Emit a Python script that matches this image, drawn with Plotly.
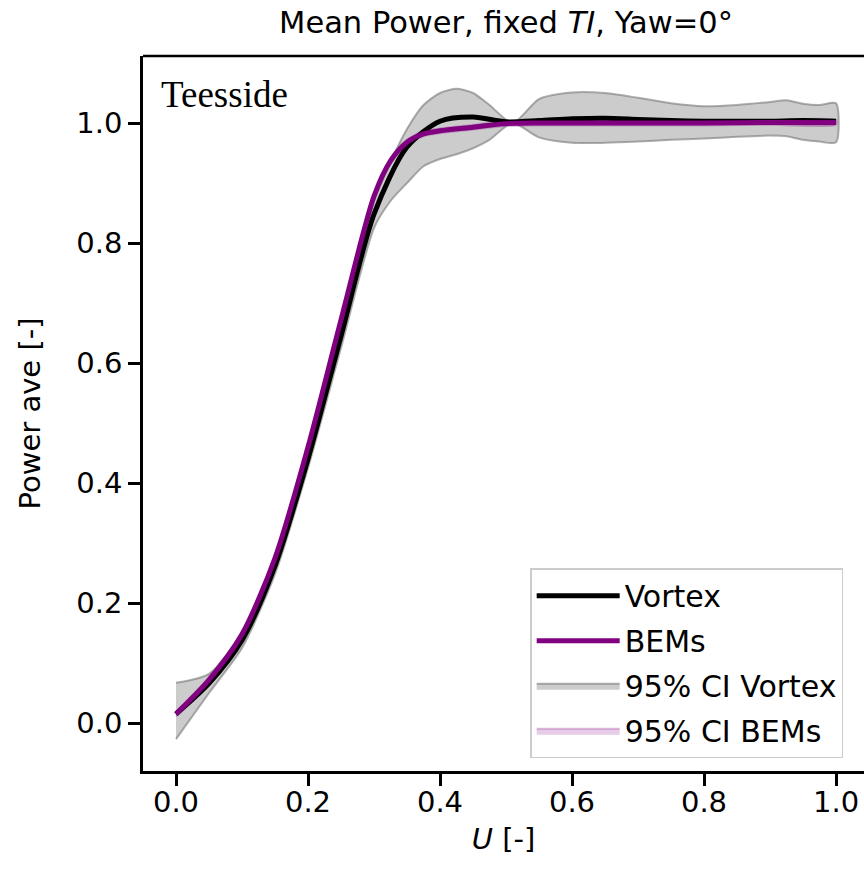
import plotly.graph_objects as go

# ---- data ----
u_vortex = [0.00, 0.05, 0.10, 0.15, 0.20, 0.25, 0.30, 0.35, 0.40, 0.45, 0.50,
            0.55, 0.60, 0.65, 0.70, 0.75, 0.80, 0.85, 0.90, 0.95, 1.00]
p_vortex = [0.015, 0.066, 0.138, 0.262, 0.440, 0.645, 0.848, 0.960, 1.003, 1.010, 1.002,
            1.004, 1.007, 1.008, 1.006, 1.004, 1.003, 1.003, 1.003, 1.004, 1.003]

u_bems = [0.00, 0.05, 0.10, 0.15, 0.20, 0.25, 0.30, 0.325, 0.35, 0.375, 0.40, 0.45,
          0.50, 0.55, 0.60, 0.70, 0.80, 0.90, 1.00]
p_bems = [0.015, 0.072, 0.148, 0.275, 0.460, 0.672, 0.878, 0.937, 0.968, 0.982, 0.987, 0.993,
          0.999, 1.000, 1.000, 1.000, 1.000, 1.001, 1.001]

u_ci_v = [0.00, 0.05, 0.10, 0.15, 0.20, 0.25, 0.30, 0.325, 0.35, 0.375, 0.40, 0.425,
          0.45, 0.475, 0.51, 0.55, 0.60, 0.65, 0.70, 0.75, 0.80, 0.85, 0.90, 0.925,
          0.95, 0.975, 1.00]
ci_v_upper = [0.067, 0.082, 0.150, 0.272, 0.452, 0.660, 0.870, 0.935, 0.990, 1.030, 1.050, 1.057,
              1.050, 1.030, 1.000, 1.040, 1.051, 1.050, 1.042, 1.033, 1.028, 1.030, 1.035, 1.038,
              1.032, 1.030, 1.033]
ci_v_lower = [-0.027, 0.050, 0.125, 0.248, 0.425, 0.625, 0.825, 0.870, 0.900, 0.928, 0.940, 0.948,
              0.958, 0.972, 1.000, 0.976, 0.967, 0.967, 0.969, 0.972, 0.974, 0.977, 0.979, 0.978,
              0.972, 0.969, 0.968]

ci_b_upper = [0.019, 0.076, 0.152, 0.279, 0.464, 0.676, 0.882, 0.941, 0.972, 0.986, 0.991, 0.997,
              1.003, 1.004, 1.004, 1.004, 1.004, 1.005, 1.005]
ci_b_lower = [0.011, 0.068, 0.144, 0.271, 0.456, 0.668, 0.874, 0.933, 0.964, 0.978, 0.983, 0.989,
              0.995, 0.996, 0.996, 0.996, 0.996, 0.997, 0.997]

x_ticks = [0.0, 0.2, 0.4, 0.6, 0.8, 1.0]
y_ticks = [0.0, 0.2, 0.4, 0.6, 0.8, 1.0]

FONT = "DejaVu Sans"
FS = 29

fig = go.Figure()

# CI Vortex band (closed polygon, like fill_between with edge)
fig.add_trace(go.Scatter(
    x=u_ci_v + u_ci_v[::-1], y=ci_v_upper + ci_v_lower[::-1],
    fill="toself", fillcolor="rgba(128,128,128,0.40)",
    line=dict(color="rgba(110,110,110,0.55)", width=2, shape="spline", smoothing=0.7),
    mode="lines", name="95% CI Vortex", legendrank=3, legendgroup="c",
))
# CI BEMs band
fig.add_trace(go.Scatter(
    x=u_bems + u_bems[::-1], y=ci_b_upper + ci_b_lower[::-1],
    fill="toself", fillcolor="rgba(128,0,128,0.20)",
    line=dict(color="rgba(128,0,128,0.25)", width=2, shape="spline", smoothing=0.7),
    mode="lines", name="95% CI BEMs", legendrank=4, legendgroup="d",
))
fig.add_trace(go.Scatter(
    x=u_vortex, y=p_vortex, mode="lines", name="Vortex",
    line=dict(color="black", width=5, shape="spline", smoothing=0.8),
    legendrank=1, legendgroup="a",
))
fig.add_trace(go.Scatter(
    x=u_bems, y=p_bems, mode="lines", name="BEMs",
    line=dict(color="#800080", width=5, shape="spline", smoothing=0.8),
    legendrank=2, legendgroup="b",
))

fig.update_layout(
    width=864, height=880,
    margin=dict(l=143, r=0, t=56, b=109),
    paper_bgcolor="white", plot_bgcolor="white",
    font=dict(family=FONT, size=FS, color="black"),
    title=dict(text="Mean Power, fixed <i>TI</i>, Yaw=0°", xref="paper", x=0.5035,
               xanchor="center", yref="container", y=0.975, yanchor="middle",
               font=dict(family=FONT, size=30.5)),
    legend=dict(x=0.537, y=0.018, xanchor="left", yanchor="bottom",
                bgcolor="rgba(255,255,255,0.8)", bordercolor="#cccccc", borderwidth=1.5,
                font=dict(family=FONT, size=30), tracegroupgap=3, itemwidth=83),
    showlegend=True,
)
fig.update_xaxes(
    range=[-0.05, 1.0424], tickvals=x_ticks, ticktext=[f"{v:.1f}" for v in x_ticks],
    showgrid=False, zeroline=False, showline=True, linecolor="black", linewidth=2.5,
    ticks="outside", ticklen=12, tickwidth=2.5, tickcolor="black", ticklabelstandoff=-9,
    title=dict(text="<i>U</i> [-]", font=dict(family=FONT, size=FS), standoff=12),
)
fig.update_yaxes(
    range=[-0.08, 1.1117], tickvals=y_ticks, ticktext=[f"{v:.1f}" for v in y_ticks],
    showgrid=False, zeroline=False, showline=True, linecolor="black", linewidth=2.5,
    ticks="outside", ticklen=12, tickwidth=2.5, tickcolor="black",
    title=dict(text="Power ave [-]", font=dict(family=FONT, size=FS), standoff=28),
)
# top spine
fig.add_shape(type="line", xref="paper", yref="paper", x0=0, x1=1, y0=1, y1=1,
              line=dict(color="black", width=2.5))
fig.add_annotation(text="Teesside", xref="paper", yref="paper", x=0.022, y=0.978,
                   xanchor="left", yanchor="top", showarrow=False,
                   font=dict(family="Liberation Serif", size=37, color="black"))

fig.write_html("out.html", config={"displayModeBar": False},
               post_script="document.body.style.margin='0';document.body.style.overflow='hidden';")
